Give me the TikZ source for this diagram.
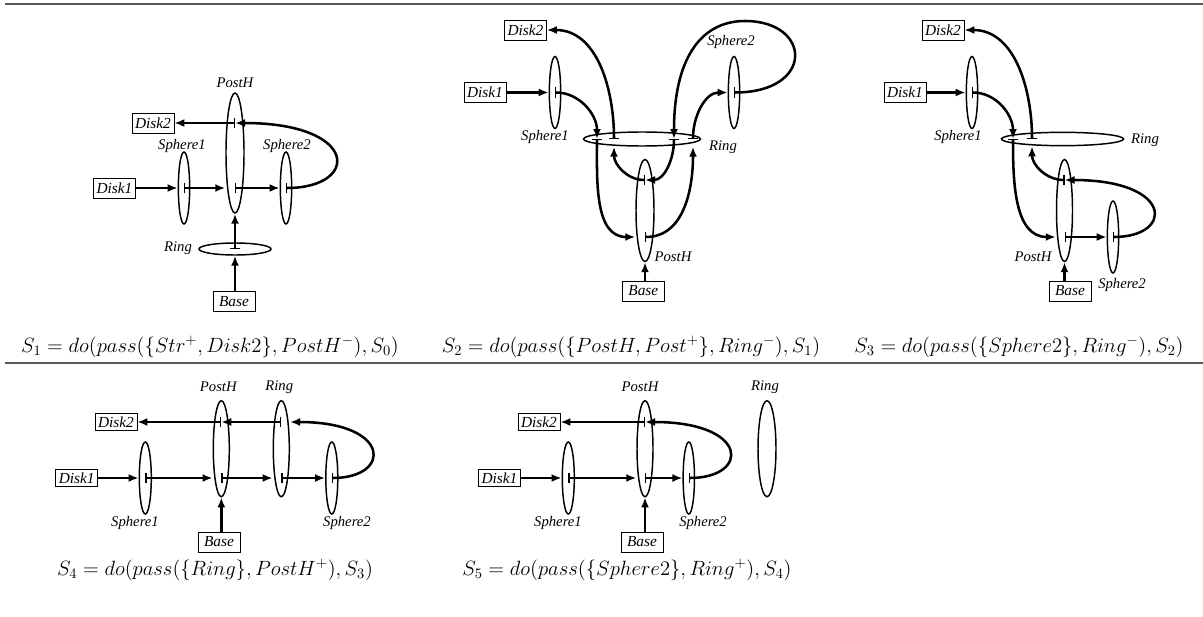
\RequirePackage{fix-cm}
\documentclass[tikz,border=0pt]{standalone}
\usepackage{fontspec}
\newfontfamily\lblfont{Liberation Serif}
\usetikzlibrary{arrows.meta, shapes.geometric}

\tikzset{
    obj/.style = {draw, ellipse, line width=1.1pt, inner sep=0pt},
    sph/.style = {obj, minimum width=8.5pt, minimum height=54pt},
    box/.style = {draw, line width=0.6pt, minimum width=31.5pt, minimum height=15pt, inner sep=1pt,
                  font=\lblfont\itshape\fontsize{11.5}{13}\selectfont},
    lbl/.style = {inner sep=0pt, font=\lblfont\itshape\fontsize{11}{13}\selectfont},
    move/.style = {line width=1.9pt, -{Latex[length=7.5pt,width=6pt]}},
    pass/.style = {line width=1.9pt, {Bar[width=8pt,line width=0.9pt]}-{Latex[length=7.5pt,width=6pt]}},
    sit/.style = {inner sep=0pt, font=\fontsize{15.5}{18}\selectfont},
    rule/.style = {line width=1.6pt, black!65}
}

\begin{document}
\begin{tikzpicture}[x=0.75pt, y=-0.75pt]
    \useasboundingbox (0,0) rectangle (1203,617);
    \draw[rule] (5,4) -- (1203,4);
    \draw[rule] (5,363) -- (1203,363);

    \node (post1) [obj, minimum width=13.5pt, minimum height=90pt] at (235,153) {};
    \node (ring1) [obj, minimum width=54pt, minimum height=9pt] at (235,249) {};
    \node (sphA1) [sph] at (184,188) {};
    \node (sphB1) [sph] at (286,188) {};
    \node (diskA1) [box] at (114.5,188) {Disk1};
    \node (diskB1) [box] at (153,123) {Disk2};
    \node (base1) [box] at (234,301.5) {Base};
    \node (tpost1) [lbl] at (235,83) {PostH};
    \node (tsphA1) [lbl] at (182,146) {Sphere1};
    \node (tsphB1) [lbl] at (287,146) {Sphere2};
    \node (tring1) [lbl] at (178,248) {Ring};

    \draw [move] (diskA1) -- (sphA1.west);
    \draw [pass] (sphA1.center) -- (sphA1 -| post1.west);
    \draw [pass] (post1 |- sphA1) -- (sphB1.west);
    \draw [pass] (sphB1.center) .. controls (360,188) and (360,123) .. (post1 |- diskB1);
    \draw [pass] (post1 |- diskB1) -- (diskB1);
    \draw [pass] (ring1.center) -- (post1.south);
    \draw [move] (ring1.south |- base1.north) -- (ring1.south);
    \node (sit1) [sit] at (210,347) {$S_1 = do(pass(\{Str^+, Disk2\}, PostH^-), S_0)$};

    \node (post2) [obj, minimum width=13.5pt, minimum height=76.5pt] at (645,210.5) {};
    \node (ring2) [obj, minimum width=87.75pt, minimum height=10.5pt] at (642,139) {};
    \node (sphA2) [sph] at (555,92.5) {};
    \node (sphB2) [sph] at (734,92.5) {};
    \node (diskA2) [box] at (485,92.5) {Disk1};
    \node (diskB2) [box] at (525.5,30) {Disk2};
    \node (base2) [box] at (643.3,291) {Base};
    \node (tsphA2) [lbl] at (545,137) {Sphere1};
    \node (tsphB2) [lbl] at (731,42) {Sphere2};
    \node (tring2) [lbl] at (723,147) {Ring};
    \node (tpost2) [lbl] at (673,257) {PostH};
    \coordinate (r2a) at (597,139);
    \coordinate (r2b) at (614,139);
    \coordinate (r2c) at (674,139);
    \coordinate (r2d) at (693,139);
    \coordinate (p2u) at (645,180);
    \coordinate (p2d) at (645,237);

    \draw [move] (diskA2) -- (sphA2.west);
    \draw [pass] (sphA2.center) to[out=0, in=90] (r2a);
    \draw [pass] (r2a) to[out=-90, in=180] (p2d -| post2.west);
    \draw [pass] (p2u) to[out=180, in=-90] (r2b |- ring2.south);
    \draw [pass] (r2b) to[out=90, in=0] (diskB2);
    \draw [pass] (r2c) to[out=-90, in=0] (p2u);
    \draw [pass] (p2d) to[out=0, in=-90] (r2d |- ring2.south);
    \draw [pass] (r2d) to[out=90, in=180] (sphB2.west);
    \draw [pass] (sphB2.center) .. controls (815,92.5) and (812,21) .. (745,21)
                 .. controls (700,21) and (674,60) .. (r2c);
    \draw [move] (post2.south |- base2.north) -- (post2.south);
    \node (sit2) [sit] at (631,347) {$S_2 = do(pass(\{PostH, Post^+\}, Ring^-), S_1)$};

    \node (post3) [obj, minimum width=12pt, minimum height=76.5pt] at (1064.5,210.5) {};
    \node (ring3) [obj, minimum width=91.5pt, minimum height=10pt] at (1062.5,139) {};
    \node (sphA3) [sph] at (972,92.5) {};
    \node (sphB3) [sph] at (1113,237) {};
    \node (diskA3) [box] at (905,92.5) {Disk1};
    \node (diskB3) [box] at (943,30) {Disk2};
    \node (base3) [box] at (1070,291) {Base};
    \node (tsphA3) [lbl] at (958,137) {Sphere1};
    \node (tring3) [lbl] at (1145,140) {Ring};
    \node (tpost3) [lbl] at (1033,257) {PostH};
    \node (tsphB3) [lbl] at (1122,285) {Sphere2};
    \coordinate (r3a) at (1013,139);
    \coordinate (r3b) at (1032,139);
    \coordinate (p3u) at (1064.5,180);
    \coordinate (p3d) at (1064.5,237);

    \draw [move] (diskA3) -- (sphA3.west);
    \draw [pass] (sphA3.center) to[out=0, in=90] (r3a);
    \draw [pass] (r3a) to[out=-90, in=180] (p3d -| post3.west);
    \draw [pass] (p3u) to[out=180, in=-90] (r3b |- ring3.south);
    \draw [pass] (r3b) to[out=90, in=0] (diskB3);
    \draw [pass] (p3d) -- (sphB3.west);
    \draw [pass] (sphB3.center) .. controls (1174,237) and (1174,180) .. (p3u);
    \draw [move] (post3.south |- base3.north) -- (post3.south);
    \node (sit3) [sit] at (1019,347) {$S_3 = do(pass(\{Sphere2\}, Ring^-), S_2)$};

    \node (post4) [obj, minimum width=12pt, minimum height=72pt] at (221.3,448.7) {};
    \node (ring4) [obj, minimum width=12pt, minimum height=72pt] at (281.3,448.7) {};
    \node (sphA4) [sph, minimum width=9pt] at (145.3,478) {};
    \node (sphB4) [sph, minimum width=9pt] at (331.8,478) {};
    \node (diskA4) [box, minimum height=13pt] at (76.7,478) {Disk1};
    \node (diskB4) [box, minimum height=13pt] at (116,422) {Disk2};
    \node (base4) [box] at (219,542) {Base};
    \node (tpost4) [lbl] at (218.3,387) {PostH};
    \node (tring4) [lbl] at (279.3,387) {Ring};
    \node (tsphA4) [lbl] at (135,523) {Sphere1};
    \node (tsphB4) [lbl] at (347,523) {Sphere2};

    \draw [move] (diskA4) -- (sphA4.west);
    \draw [pass] (sphA4.center) -- (sphA4 -| post4.west);
    \draw [pass] (post4 |- sphA4) -- (sphA4 -| ring4.west);
    \draw [pass] (ring4 |- sphA4) -- (sphB4.west);
    \draw [pass] (sphB4.center) .. controls (392,478) and (392,422) .. (ring4.east |- diskB4);
    \draw [pass] (ring4 |- diskB4) -- (post4 |- diskB4);
    \draw [pass] (post4 |- diskB4) -- (diskB4);
    \draw [move] (post4.south |- base4.north) -- (post4.south);
    \node (sit4) [sit] at (215,570) {$S_4 = do(pass(\{Ring\}, PostH^+), S_3)$};

    \node (post5) [obj, minimum width=12pt, minimum height=72pt] at (645,448.7) {};
    \node (ring5) [obj, minimum width=13.5pt, minimum height=72pt] at (767,448.7) {};
    \node (sphA5) [sph, minimum width=9pt] at (568.3,478) {};
    \node (sphB5) [sph] at (688.8,478) {};
    \node (diskA5) [box, minimum height=13pt] at (499.5,478) {Disk1};
    \node (diskB5) [box, minimum height=13pt] at (539,422) {Disk2};
    \node (base5) [box] at (642,542) {Base};
    \node (tpost5) [lbl] at (640,387) {PostH};
    \node (tring5) [lbl] at (765,387) {Ring};
    \node (tsphA5) [lbl] at (558,523) {Sphere1};
    \node (tsphB5) [lbl] at (703,523) {Sphere2};

    \draw [move] (diskA5) -- (sphA5.west);
    \draw [pass] (sphA5.center) -- (sphA5 -| post5.west);
    \draw [pass] (post5 |- sphA5) -- (sphB5.west);
    \draw [pass] (sphB5.center) .. controls (750,478) and (750,422) .. (post5 |- diskB5);
    \draw [pass] (post5 |- diskB5) -- (diskB5);
    \draw [move] (post5.south |- base5.north) -- (post5.south);
    \node (sit5) [sit] at (627,570) {$S_5 = do(pass(\{Sphere2\}, Ring^+), S_4)$};
\end{tikzpicture}
\end{document}
